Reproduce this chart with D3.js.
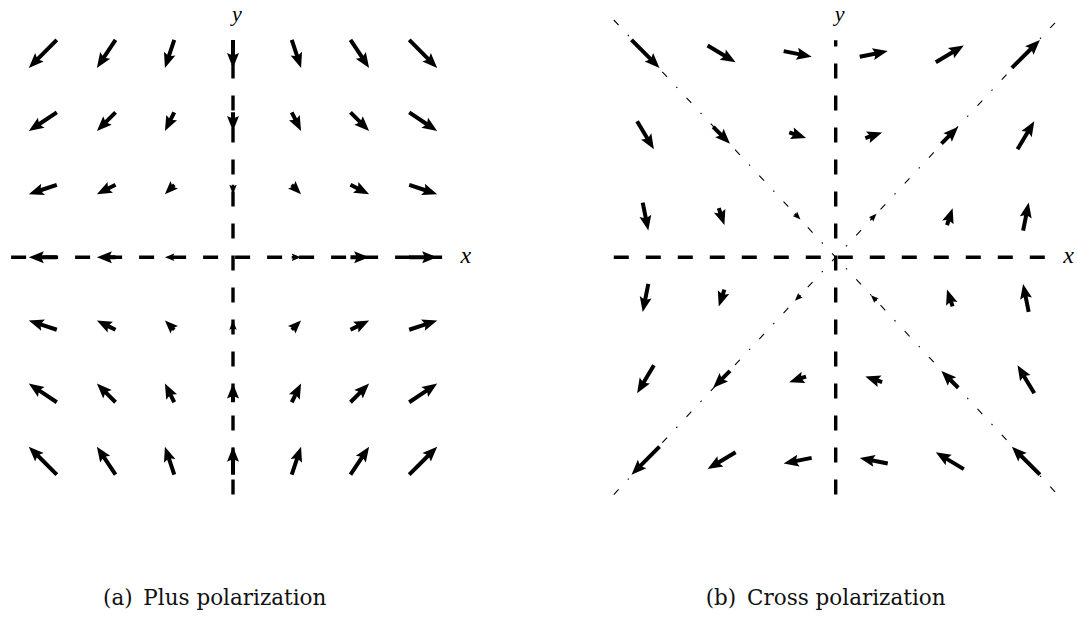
<!DOCTYPE html>
<html>
<head>
<meta charset="utf-8">
<script src="https://cdn.jsdelivr.net/npm/d3@7"></script>
<style>
  body { margin: 0; background: #fff; }
  svg { display: block; }
</style>
</head>
<body>
<div id="chart"></div>
<script>
// grid positions (data units)
var plusGrid = [-3, -2, -1, 0, 1, 2, 3];
var crossGrid = [-3, -1.8, -0.6, 0.6, 1.8, 3];

// plus polarization, rows from y = 3 (top) to y = -3 (bottom)
var plusU = [
  [-3, -2, -1, 0, 1, 2, 3],
  [-3, -2, -1, 0, 1, 2, 3],
  [-3, -2, -1, 0, 1, 2, 3],
  [-3, -2, -1, 0, 1, 2, 3],
  [-3, -2, -1, 0, 1, 2, 3],
  [-3, -2, -1, 0, 1, 2, 3],
  [-3, -2, -1, 0, 1, 2, 3]
];
var plusV = [
  [-3, -3, -3, -3, -3, -3, -3],
  [-2, -2, -2, -2, -2, -2, -2],
  [-1, -1, -1, -1, -1, -1, -1],
  [0, 0, 0, 0, 0, 0, 0],
  [1, 1, 1, 1, 1, 1, 1],
  [2, 2, 2, 2, 2, 2, 2],
  [3, 3, 3, 3, 3, 3, 3]
];

// cross polarization, rows from y = 3 (top) to y = -3 (bottom)
var crossU = [
  [3, 3, 3, 3, 3, 3],
  [1.8, 1.8, 1.8, 1.8, 1.8, 1.8],
  [0.6, 0.6, 0.6, 0.6, 0.6, 0.6],
  [-0.6, -0.6, -0.6, -0.6, -0.6, -0.6],
  [-1.8, -1.8, -1.8, -1.8, -1.8, -1.8],
  [-3, -3, -3, -3, -3, -3]
];
var crossV = [
  [-3, -1.8, -0.6, 0.6, 1.8, 3],
  [-3, -1.8, -0.6, 0.6, 1.8, 3],
  [-3, -1.8, -0.6, 0.6, 1.8, 3],
  [-3, -1.8, -0.6, 0.6, 1.8, 3],
  [-3, -1.8, -0.6, 0.6, 1.8, 3],
  [-3, -1.8, -0.6, 0.6, 1.8, 3]
];

var captions = ["(a)\u2002Plus polarization", "(b)\u2002Cross polarization"];

var width = 1078,
  height = 621;

var svg = d3.select("#chart")
  .append("svg")
  .attr("width", width)
  .attr("height", height)
  .style("background", "#fff");

// screen pixels per vector unit (3 units -> 28px)
var lenScale = d3.scaleLinear().domain([0, 3]).range([0, 28]);

var yScale = d3.scaleLinear().domain([-3.5, 3.5]).range([494.6, 20]);

function toPoints(grid, U, V) {
  var pts = [];
  var rows = grid.slice().reverse();
  rows.forEach(function(gy, i) {
    grid.forEach(function(gx, j) {
      pts.push({ x: gx, y: gy, u: U[i][j], v: V[i][j] });
    });
  });
  return pts;
}

// quiver style arrow, pivot in the middle
function arrowPath(cx, cy, dx, dy) {
  var L = Math.sqrt(dx * dx + dy * dy);
  if (L < 0.5) return "";
  var w = 4, hl = 15, hal = 13.2, hw = 12;
  if (L < hl) {
    var s = L / hl;
    w *= s; hl *= s; hal *= s; hw *= s;
  }
  var ux = dx / L, uy = dy / L, nx = -uy, ny = ux;
  var tx = cx - dx / 2, ty = cy - dy / 2;
  function p(a, b) {
    return [tx + ux * a + nx * b, ty + uy * a + ny * b];
  }
  var pts = [
    p(0, -w / 2), p(L - hal, -w / 2), p(L - hl, -hw / 2), p(L, 0),
    p(L - hl, hw / 2), p(L - hal, w / 2), p(0, w / 2)
  ];
  return "M" + pts.map(function(q) { return q[0].toFixed(2) + "," + q[1].toFixed(2); }).join("L") + "Z";
}

function drawPanel(cx, points, caption, diagonals) {
  var xScale = d3.scaleLinear().domain([-3.5, 3.5]).range([cx - 3.5 * 63.4, cx + 3.5 * 63.4]);
  var g = svg.append("g");

  if (diagonals) {
    [[-3.5, 3.5, 3.5, -3.5], [-3.5, -3.5, 3.5, 3.5]].forEach(function(d) {
      g.append("line")
        .attr("x1", xScale(d[0])).attr("y1", yScale(d[1]))
        .attr("x2", xScale(d[2])).attr("y2", yScale(d[3]))
        .attr("stroke", "#000")
        .attr("stroke-width", 1.1)
        .attr("stroke-dasharray", "7,13.5,1.5,13.5");
    });
  }

  // dashed axes
  g.append("line")
    .attr("x1", xScale(-3.5)).attr("y1", yScale(0))
    .attr("x2", xScale(3.5)).attr("y2", yScale(0))
    .attr("stroke", "#000")
    .attr("stroke-width", 3.4)
    .attr("stroke-dasharray", "15,17");
  g.append("line")
    .attr("x1", xScale(0)).attr("y1", yScale(-3.5))
    .attr("x2", xScale(0)).attr("y2", yScale(3.2))
    .attr("stroke", "#000")
    .attr("stroke-width", 3.4)
    .attr("stroke-dasharray", "15,17");

  g.selectAll(".arrow")
    .data(points)
    .enter().append("path")
    .attr("class", "arrow")
    .attr("d", function(d) {
      return arrowPath(xScale(d.x), yScale(d.y), lenScale(d.u), -lenScale(d.v));
    })
    .attr("fill", "#000");

  g.append("text")
    .attr("x", xScale(3.5) + 11)
    .attr("y", yScale(0) + 6)
    .attr("text-anchor", "middle")
    .attr("font-family", "Liberation Serif")
    .attr("font-style", "italic")
    .attr("font-size", 24)
    .text("x");

  g.append("text")
    .attr("x", xScale(0) + 4)
    .attr("y", 20.5)
    .attr("text-anchor", "middle")
    .attr("font-family", "Liberation Serif")
    .attr("font-style", "italic")
    .attr("font-size", 22)
    .text("y");

  g.append("text")
    .attr("x", xScale(0) - 130)
    .attr("y", 605)
    .attr("text-anchor", "start")
    .attr("font-family", "DejaVu Serif")
    .attr("font-size", 21.5)
    .attr("fill", "#111")
    .text(caption);
}

drawPanel(233, toPoints(plusGrid, plusU, plusV), captions[0], false);
drawPanel(835.7, toPoints(crossGrid, crossU, crossV), captions[1], true);
</script>
</body>
</html>
